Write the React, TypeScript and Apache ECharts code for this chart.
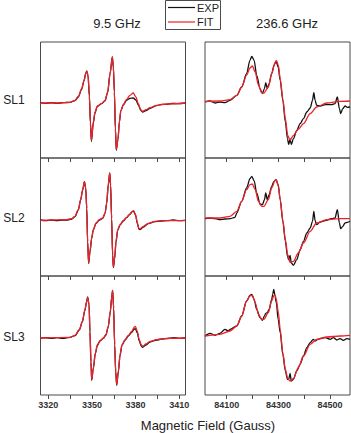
import { useEffect, useRef } from "react";
import * as echarts from "echarts";

type Pt = [number, number];

const rowLabels = ["SL1", "SL2", "SL3"];
const bandTitles = ["9.5 GHz", "236.6 GHz"];
const xAxisTitle = "Magnetic Field (Gauss)";
const legendNames = ["EXP", "FIT"];

const xBandTicks = [3320, 3335, 3350, 3365, 3380, 3395, 3410];
const xBandTickLabels = [3320, 3350, 3380, 3410];
const hfTicks = [84100, 84200, 84300, 84400, 84500];
const hfTickLabels = [84100, 84300, 84500];

// ---- 9.5 GHz (X-band) spectra ----
const xSl1Fit: Pt[] = [[3314.3,0],[3328.0,0],[3334.9,0.7],[3338.3,2.7],[3340.6,6.7],[3342.9,14.3],[3344.5,22.7],[3345.7,29.3],[3346.4,31.7],[3347.3,27.7],[3348.2,7.7],[3348.9,-19],[3349.6,-37.3],[3350.9,-19],[3352.1,-9],[3353.7,-3],[3356.7,-0.3],[3359.0,2.7],[3360.8,11],[3362.4,29.3],[3364.0,46],[3364.7,36],[3365.4,11],[3366.1,-25.7],[3366.7,-46.7],[3367.9,-35.7],[3368.8,-19],[3369.9,-7.3],[3371.5,-1.7],[3373.8,3.7],[3376.1,7.7],[3378.4,10],[3380.2,6],[3381.9,-0.7],[3383.5,-6.7],[3384.8,-8.3],[3387.1,-6.7],[3389.9,-4.7],[3394.4,-2.3],[3401.3,-1],[3414.4,0]];
const xSl1Exp: Pt[] = [[3314.3,0.3],[3318,-0.3],[3322,0.3],[3326,-0.3],[3330,0.3],[3334.9,0.7],[3338.3,2.3],[3340.6,6],[3342.9,13.7],[3344.5,22],[3345.7,29.7],[3346.4,32],[3347.3,27.3],[3348.2,6.7],[3348.9,-20],[3349.6,-38.3],[3350.9,-20],[3352.1,-9.7],[3353.7,-3.3],[3356.7,-0.7],[3359.0,2.3],[3360.8,10.7],[3362.4,29],[3364.0,46],[3364.7,35.7],[3365.4,10.7],[3366.1,-26],[3366.7,-47.3],[3367.9,-36.3],[3368.8,-19.3],[3369.9,-7.7],[3371.5,-2],[3373.8,2.7],[3376.1,4.7],[3378.4,5],[3380.2,3],[3381.9,-2],[3383.5,-7.3],[3384.8,-9],[3387.1,-7.7],[3389.9,-5.3],[3394.4,-2.7],[3398,-1.3],[3401.3,-1.3],[3405,-0.3],[3409,-0.7],[3414.4,0]];

const xSl2Fit: Pt[] = [[3314.3,0],[3332.6,0.7],[3336.1,1.7],[3338.3,4],[3340.6,10.7],[3342.2,20.7],[3343.6,30.7],[3344.8,38.3],[3345.7,32.3],[3346.4,12.3],[3347.0,-21],[3347.7,-42.7],[3348.6,-31],[3349.8,-17.7],[3350.9,-9.3],[3352.8,-2.7],[3355.1,0.7],[3357.4,2.3],[3359.0,7.3],[3360.1,17.3],[3361.2,35.7],[3362.2,47.3],[3362.8,35.7],[3363.5,2.3],[3364.2,-34.3],[3364.7,-46.7],[3365.6,-37.7],[3366.5,-21],[3367.7,-9.3],[3369.3,-4.3],[3371.5,-0.3],[3373.8,3],[3376.1,6.3],[3377.7,9],[3378.6,9.7],[3380.0,5.7],[3381.2,-2.7],[3382.3,-8.3],[3383.0,-8.7],[3385.3,-6],[3388.7,-3],[3393.3,-1],[3401.3,-0.3],[3414.4,0]];
const xSl2Exp: Pt[] = [[3314.3,0.3],[3318,-0.3],[3322,0.3],[3326,-0.3],[3329,0.3],[3332.6,0.3],[3336.1,1.3],[3338.3,3.7],[3340.6,10.3],[3342.2,20.3],[3343.6,30.3],[3344.8,38.7],[3345.7,32],[3346.4,11.7],[3347.0,-21.7],[3347.7,-43.3],[3348.6,-31.7],[3349.8,-18],[3350.9,-9.7],[3352.8,-3],[3355.1,0.3],[3357.4,2],[3359.0,7],[3360.1,17],[3361.2,35.3],[3362.2,47.3],[3362.8,35.3],[3363.5,2],[3364.2,-34.7],[3364.7,-47.3],[3365.6,-38.3],[3366.5,-21.7],[3367.7,-10],[3369.3,-4.7],[3371.5,-0.7],[3373.8,2.7],[3376.1,6],[3377.7,8.7],[3378.6,9],[3380.0,5],[3381.2,-3.3],[3382.3,-9],[3383.0,-9.3],[3385.3,-6.7],[3388.7,-3.3],[3393.3,-1.3],[3397,-0.7],[3401.3,-0.3],[3406,0.3],[3410,-0.3],[3414.4,0]];

const xSl3Fit: Pt[] = [[3314.3,0],[3334.9,0.7],[3338.3,2.7],[3341.3,8.3],[3343.4,16.7],[3345.0,27.3],[3346.4,36.7],[3347.0,40.7],[3348.0,33.3],[3348.6,6.7],[3349.3,-23.3],[3349.8,-41.7],[3350.9,-30],[3352.3,-15],[3353.7,-6.7],[3355.5,-2.7],[3357.8,0],[3359.6,3.3],[3361.2,11.7],[3362.6,26.7],[3363.5,40],[3364.2,47.7],[3364.9,30],[3365.6,-6.7],[3366.3,-33.3],[3367.0,-46.7],[3368.1,-33.3],[3369.3,-16.7],[3370.6,-6.7],[3372.7,-1.7],[3375.0,2.7],[3377.3,6.7],[3379.1,11],[3379.8,11.7],[3381.2,6.7],[3382.5,-1.7],[3383.9,-6.7],[3384.8,-8.3],[3387.1,-6],[3389.9,-3.3],[3394.4,-1.7],[3401.3,-0.3],[3414.4,0]];
const xSl3Exp: Pt[] = [[3314.3,-0.3],[3318,0.3],[3322,-0.3],[3326,0.3],[3330,-0.3],[3334.9,0.7],[3338.3,2.3],[3341.3,8],[3343.4,16.3],[3345.0,27],[3346.4,36.7],[3347.0,41],[3348.0,33],[3348.6,6],[3349.3,-24],[3349.8,-42.3],[3350.9,-30.7],[3352.3,-15.7],[3353.7,-7.3],[3355.5,-3],[3357.8,-0.3],[3359.6,3],[3361.2,11.3],[3362.6,26.3],[3363.5,40],[3364.2,47.7],[3364.9,29.7],[3365.6,-7],[3366.3,-34],[3367.0,-47.3],[3368.1,-34],[3369.3,-17.3],[3370.6,-7.3],[3372.7,-2.3],[3375.0,2],[3377.3,5.7],[3379.1,9],[3379.8,9.3],[3381.2,5],[3382.5,-3],[3383.9,-8],[3384.8,-9.3],[3387.1,-7],[3389.9,-4],[3394.4,-2],[3398,-1],[3401.3,-0.7],[3406,0.3],[3410,-0.3],[3414.4,0]];

// ---- 236.6 GHz spectra ----
const hfSl1Fit: Pt[] = [[84016,0],[84074,0.3],[84113,1.7],[84139,6],[84158,14.3],[84177,26],[84190,33.3],[84199,35.3],[84210,29.3],[84223,16],[84235,8.7],[84244,8.3],[84261,14.3],[84274,27.7],[84287,38.7],[84292,41],[84300,36],[84307,22.7],[84317,2.7],[84327,-17.3],[84336,-34],[84345,-39],[84358,-34],[84377,-28],[84397,-22.3],[84423,-12.3],[84448,-5.7],[84487,-1.7],[84539,0],[84577,0.3]];
const hfSl1Exp: Pt[] = [[84016,-0.7],[84035,0.3],[84055,-1.7],[84074,-0.7],[84093,-1.3],[84113,1],[84139,6],[84158,14.3],[84177,27.7],[84190,41],[84197,45],[84206,41],[84216,26],[84229,12.7],[84238,7.7],[84246,12.7],[84251,18.7],[84257,12.7],[84264,17.7],[84274,27.7],[84283,36],[84291,40],[84299,34.3],[84307,21],[84317,1],[84327,-20.7],[84335,-37.3],[84340,-43.3],[84345,-37.3],[84350,-43.3],[84358,-37.3],[84371,-29],[84384,-22.3],[84397,-17.3],[84410,-10.7],[84423,-6.7],[84432,1],[84437,8.7],[84442,1],[84448,-4],[84461,-4.7],[84481,-3.3],[84506,-3.3],[84519,-2.3],[84528,4.3],[84536,-7.3],[84541,-12.3],[84549,-7.3],[84558,-4.7],[84567,-6],[84577,-5.7]];

const hfSl2Fit: Pt[] = [[84016,0],[84074,0],[84113,1.7],[84139,6.7],[84158,16.7],[84177,28.3],[84190,33.3],[84199,34],[84210,28.3],[84223,16.7],[84235,11.7],[84244,11.7],[84261,18.3],[84274,30],[84287,37.3],[84292,38],[84300,31.7],[84307,18.3],[84317,-1.7],[84327,-21.7],[84336,-36.7],[84345,-44.3],[84358,-43.3],[84377,-35],[84397,-25],[84423,-13.3],[84448,-5],[84487,-1.7],[84539,-0.7],[84577,-0.7]];
const hfSl2Exp: Pt[] = [[84016,-0.7],[84035,0],[84055,-0.7],[84074,-1.7],[84093,-1],[84113,-0.7],[84132,0.7],[84139,5],[84158,16.7],[84177,30],[84190,39.3],[84197,41.7],[84206,37.3],[84216,25],[84229,14],[84238,13.3],[84246,18.3],[84251,25],[84257,18.3],[84264,23.3],[84274,31.7],[84283,36.7],[84291,38.3],[84299,33.3],[84307,18.3],[84317,-3.3],[84327,-23.3],[84335,-38.3],[84340,-41.7],[84345,-37.3],[84350,-45],[84358,-47.3],[84371,-41.7],[84384,-31.7],[84397,-23.3],[84410,-15],[84423,-10],[84432,-3.3],[84437,6.7],[84442,-2.7],[84448,-6.7],[84461,-4],[84481,-2.7],[84506,-0.7],[84519,0],[84528,8.3],[84536,-5],[84541,-10.7],[84549,-8.3],[84558,-5],[84567,-4.3],[84577,-3.3]];

const hfSl3Fit: Pt[] = [[84016,-0.7],[84074,1],[84113,4.3],[84139,9.3],[84158,19.3],[84177,34.3],[84190,39.3],[84199,40],[84210,32.7],[84223,21],[84235,16],[84244,16],[84261,22.7],[84274,34.3],[84283,40],[84287,40.3],[84292,36],[84300,22.7],[84307,6],[84317,-17.3],[84327,-34],[84336,-43.3],[84345,-45.7],[84358,-43.3],[84377,-32.3],[84397,-20.7],[84423,-9],[84448,-4],[84487,-1.7],[84539,-0.7],[84577,0]];
const hfSl3Exp: Pt[] = [[84016,-0.7],[84035,2],[84055,0],[84074,2],[84093,6],[84106,4.3],[84113,6],[84139,9.3],[84158,19.3],[84177,34.3],[84190,40],[84197,41],[84206,36],[84216,26],[84229,17.7],[84238,15],[84246,19.3],[84251,22],[84257,22.7],[84264,26],[84274,36],[84278,41],[84282,46],[84287,39.3],[84292,32.7],[84299,16],[84307,2.7],[84317,-19],[84327,-35.7],[84335,-44],[84340,-44],[84345,-38],[84350,-45.7],[84358,-44],[84371,-35.7],[84384,-29],[84397,-20.7],[84410,-12.3],[84423,-7.3],[84435,-4],[84442,-5.7],[84448,-4.7],[84461,-3.3],[84481,-2.3],[84500,-4],[84513,-2.3],[84526,-4.7],[84539,-3.3],[84551,-5],[84565,-3.3],[84577,-4]];

const FONT = "'Liberation Sans', Arial, Helvetica, sans-serif";
const EXP_COLOR = "#111111";
const FIT_COLOR = "#ee2229";
const FRAME = "#4a4a4a";

const cols = [
  { left: 40.5, width: 145, min: 3314.6, max: 3414.3, ticks: xBandTicks, labels: xBandTickLabels },
  { left: 205, width: 145, min: 84016, max: 84577, ticks: hfTicks, labels: hfTickLabels },
];
const rows = [
  { top: 42, height: 116 },
  { top: 158, height: 118 },
  { top: 276, height: 119 },
];
const panels = [
  { row: 0, col: 0, exp: xSl1Exp, fit: xSl1Fit, yMin: -55, yMax: 61 },
  { row: 0, col: 1, exp: hfSl1Exp, fit: hfSl1Fit, yMin: -56.7, yMax: 59.3 },
  { row: 1, col: 0, exp: xSl2Exp, fit: xSl2Fit, yMin: -55.7, yMax: 62.3 },
  { row: 1, col: 1, exp: hfSl2Exp, fit: hfSl2Fit, yMin: -58, yMax: 60 },
  { row: 2, col: 0, exp: xSl3Exp, fit: xSl3Fit, yMin: -57, yMax: 62 },
  { row: 2, col: 1, exp: hfSl3Exp, fit: hfSl3Fit, yMin: -59.7, yMax: 59.3 },
];

export default function App() {
  const ref = useRef<HTMLDivElement>(null);
  useEffect(() => {
    if (!ref.current) return;
    const chart = echarts.init(ref.current, undefined, { renderer: "svg" });
    const grid: any[] = [];
    const xAxis: any[] = [];
    const yAxis: any[] = [];
    const series: any[] = [];
    panels.forEach((p, i) => {
      const c = cols[p.col];
      const r = rows[p.row];
      grid.push({
        left: c.left, top: r.top, width: c.width, height: r.height,
        show: true, borderColor: FRAME, borderWidth: 1, backgroundColor: "transparent",
      });
      xAxis.push({
        gridIndex: i, type: "value", min: c.min, max: c.max, position: "bottom",
        axisLine: { show: false, onZero: false }, splitLine: { show: false },
        axisTick: { show: true, inside: false, length: 4, customValues: c.ticks, lineStyle: { color: FRAME, width: 1 } },
        axisLabel: {
          show: p.row === 2, customValues: c.labels, fontSize: 9, fontWeight: "bold",
          color: "#333", margin: 5, fontFamily: FONT, formatter: (v: number) => String(v),
        },
      });
      yAxis.push({ gridIndex: i, type: "value", min: p.yMin, max: p.yMax, show: false, axisLine: { onZero: false } });
      series.push({
        name: legendNames[0], type: "line", xAxisIndex: i, yAxisIndex: i, data: p.exp,
        showSymbol: false, symbol: "none", smooth: 0.3, smoothMonotone: "x",
        lineStyle: { color: EXP_COLOR, width: 1.3 }, z: 2,
      });
      series.push({
        name: legendNames[1], type: "line", xAxisIndex: i, yAxisIndex: i, data: p.fit,
        showSymbol: false, symbol: "none", smooth: 0.3, smoothMonotone: "x",
        lineStyle: { color: FIT_COLOR, width: 1.3 }, z: 3,
      });
    });

    const textStyle = (fontSize: number) => ({ fontSize, fontFamily: FONT, fill: "#222" });
    const graphic: any[] = [
      { type: "text", x: 117, y: 23, style: { ...textStyle(13), text: bandTitles[0], align: "center", verticalAlign: "middle" } },
      { type: "text", x: 287, y: 23, style: { ...textStyle(13), text: bandTitles[1], align: "center", verticalAlign: "middle" } },
      { type: "text", x: 208, y: 425, style: { ...textStyle(13), text: xAxisTitle, align: "center", verticalAlign: "middle" } },
      ...rowLabels.map((t, k) => ({
        type: "text", x: 14, y: [100, 218, 337][k],
        style: { ...textStyle(12), text: t, align: "center", verticalAlign: "middle" },
      })),
      { type: "rect", shape: { x: 165.5, y: 0.5, width: 55, height: 29 }, style: { fill: "#fff", stroke: FRAME, lineWidth: 1 } },
      { type: "line", shape: { x1: 168, y1: 7.5, x2: 195, y2: 7.5 }, style: { stroke: EXP_COLOR, lineWidth: 1.2 } },
      { type: "line", shape: { x1: 168, y1: 22, x2: 195, y2: 22 }, style: { stroke: FIT_COLOR, lineWidth: 1.2 } },
      { type: "text", x: 197, y: 7.5, style: { ...textStyle(11), text: legendNames[0], verticalAlign: "middle" } },
      { type: "text", x: 197, y: 22, style: { ...textStyle(11), text: legendNames[1], verticalAlign: "middle" } },
    ];

    chart.setOption({
      animation: false,
      backgroundColor: "#ffffff",
      grid, xAxis, yAxis, series, graphic,
    });
    return () => chart.dispose();
  }, []);
  return <div ref={ref} style={{ position: "fixed", left: 0, top: 0, width: 351, height: 433 }} />;
}
